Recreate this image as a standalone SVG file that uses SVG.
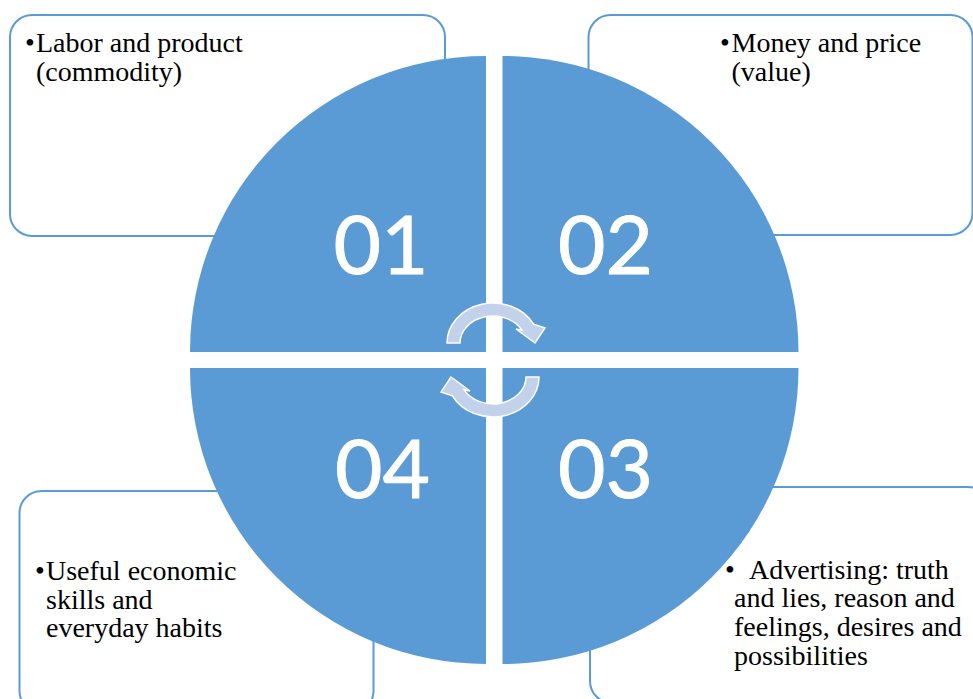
<svg xmlns="http://www.w3.org/2000/svg" width="973" height="699" viewBox="0 0 973 699">
  <style>
    .box { fill: #ffffff; stroke: #5B9BD5; stroke-width: 2; }
    .quad { fill: #5B9BD5; }
    .num { font-family: Lato, "Open Sans", "Liberation Sans", sans-serif; font-size: 82px; fill: #ffffff; stroke: #ffffff; stroke-width: 0.9; text-anchor: middle; }
    .txt { font-family: "Liberation Serif", "Times New Roman", serif; font-size: 28px; fill: #000000; }
    .cyc { fill: #C2D2EB; stroke: #ffffff; stroke-width: 1.5; stroke-linejoin: miter; }
  </style>
  <defs>
    <!-- curved cycle arrow, upper half; the lower one is the same shape turned round -->
    <path id="cycleArrow" d="M447,343 A46,40 0 0 1 533.6,324.2 L545,328 L535,343 L516,329 L522.1,330.3 A33,27 0 0 0 460,343 Z"/>
  </defs>

  <!-- text panels behind the disc -->
  <g id="panel-01">
    <rect class="box" x="10" y="15" width="435" height="221" rx="22"/>
    <text class="txt" x="25" y="52">•</text>
    <text class="txt" x="36" y="52">Labor and product</text>
    <text class="txt" x="36" y="81">(commodity)</text>
  </g>
  <g id="panel-02">
    <rect class="box" x="588.5" y="15" width="384" height="220" rx="22"/>
    <text class="txt" x="720" y="52">•</text>
    <text class="txt" x="731.5" y="52">Money and price</text>
    <text class="txt" x="731.5" y="81">(value)</text>
  </g>
  <g id="panel-03">
    <rect class="box" x="590" y="487" width="400" height="216" rx="22"/>
    <text class="txt" x="725" y="578.5">•</text>
    <text class="txt" x="749" y="578.5">Advertising: truth</text>
    <text class="txt" x="734" y="607">and lies, reason and</text>
    <text class="txt" x="734" y="636">feelings, desires and</text>
    <text class="txt" x="734" y="664.5">possibilities</text>
  </g>
  <g id="panel-04">
    <rect class="box" x="19.5" y="491" width="354" height="222" rx="22"/>
    <text class="txt" x="35" y="580">•</text>
    <text class="txt" x="46" y="580">Useful economic</text>
    <text class="txt" x="46" y="608.5">skills and</text>
    <text class="txt" x="46" y="637">everyday habits</text>
  </g>

  <!-- four quarter-disc segments separated by white gaps -->
  <g id="segment-01">
    <path class="quad" d="M486,352 L190,352 A296,296 0 0 1 486,56 Z"/>
    <text class="num" x="381" y="274">01</text>
  </g>
  <g id="segment-02">
    <path class="quad" d="M502.5,352 L502.5,56 A296,296 0 0 1 798.5,352 Z"/>
    <text class="num" x="605.5" y="274">02</text>
  </g>
  <g id="segment-03">
    <path class="quad" d="M502.5,368 L798.5,368 A296,296 0 0 1 502.5,664 Z"/>
    <text class="num" x="605.5" y="498">03</text>
  </g>
  <g id="segment-04">
    <path class="quad" d="M486,368 L486,664 A296,296 0 0 1 190,368 Z"/>
    <text class="num" x="382.5" y="498">04</text>
  </g>

  <!-- cycle arrows in the middle -->
  <g id="connectors">
    <use href="#cycleArrow" class="cyc"/>
    <use href="#cycleArrow" class="cyc" transform="rotate(180 493 360)"/>
  </g>
</svg>
